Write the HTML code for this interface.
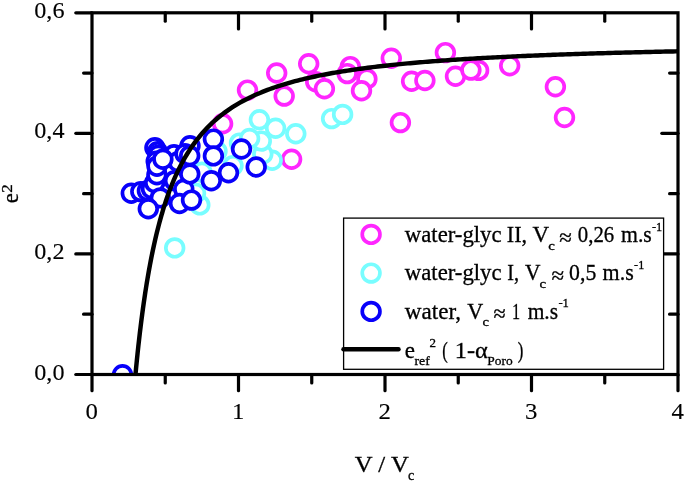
<!DOCTYPE html>
<html><head><meta charset="utf-8"><title>plot</title>
<style>
html,body{margin:0;padding:0;background:#fff;}
svg{display:block;}
text{font-family:"Liberation Serif",serif;font-size:22.8px;fill:#000;stroke:#000;stroke-width:0.3px;}
.sub{font-size:14px;}
.tl{font-size:24.1px;stroke-width:0.12px;}
</style></head><body>
<svg width="685" height="482" viewBox="0 0 685 482">
<rect width="685" height="482" fill="#fff"/>
<defs><clipPath id="cp"><rect x="92.0" y="12.8" width="586.0" height="361.7"/></clipPath></defs>
<g clip-path="url(#cp)">
<circle cx="391.3" cy="58.3" r="8.85" fill="#fff" stroke="#ff26ff" stroke-width="3.7"/>
<circle cx="445.4" cy="52.6" r="8.85" fill="#fff" stroke="#ff26ff" stroke-width="3.7"/>
<circle cx="411.6" cy="81.2" r="8.85" fill="#fff" stroke="#ff26ff" stroke-width="3.7"/>
<circle cx="424.9" cy="80.5" r="8.85" fill="#fff" stroke="#ff26ff" stroke-width="3.7"/>
<circle cx="455.5" cy="76.3" r="8.85" fill="#fff" stroke="#ff26ff" stroke-width="3.7"/>
<circle cx="478.6" cy="70.4" r="8.85" fill="#fff" stroke="#ff26ff" stroke-width="3.7"/>
<circle cx="470.9" cy="70.1" r="8.85" fill="#fff" stroke="#ff26ff" stroke-width="3.7"/>
<circle cx="509.7" cy="65.8" r="8.85" fill="#fff" stroke="#ff26ff" stroke-width="3.7"/>
<circle cx="400.4" cy="122.6" r="8.85" fill="#fff" stroke="#ff26ff" stroke-width="3.7"/>
<circle cx="555.4" cy="86.8" r="8.85" fill="#fff" stroke="#ff26ff" stroke-width="3.7"/>
<circle cx="564.5" cy="117.5" r="8.85" fill="#fff" stroke="#ff26ff" stroke-width="3.7"/>
<circle cx="247.5" cy="90.1" r="8.85" fill="#fff" stroke="#ff26ff" stroke-width="3.7"/>
<circle cx="276.7" cy="73.0" r="8.85" fill="#fff" stroke="#ff26ff" stroke-width="3.7"/>
<circle cx="284.2" cy="96.1" r="8.85" fill="#fff" stroke="#ff26ff" stroke-width="3.7"/>
<circle cx="308.7" cy="63.7" r="8.85" fill="#fff" stroke="#ff26ff" stroke-width="3.7"/>
<circle cx="315.7" cy="81.8" r="8.85" fill="#fff" stroke="#ff26ff" stroke-width="3.7"/>
<circle cx="324.4" cy="88.8" r="8.85" fill="#fff" stroke="#ff26ff" stroke-width="3.7"/>
<circle cx="350.3" cy="66.6" r="8.85" fill="#fff" stroke="#ff26ff" stroke-width="3.7"/>
<circle cx="347.2" cy="73.6" r="8.85" fill="#fff" stroke="#ff26ff" stroke-width="3.7"/>
<circle cx="366.9" cy="78.9" r="8.85" fill="#fff" stroke="#ff26ff" stroke-width="3.7"/>
<circle cx="361.5" cy="90.7" r="8.85" fill="#fff" stroke="#ff26ff" stroke-width="3.7"/>
<circle cx="222.6" cy="123.7" r="8.85" fill="#fff" stroke="#ff26ff" stroke-width="3.7"/>
<circle cx="291.6" cy="159.2" r="8.85" fill="#fff" stroke="#ff26ff" stroke-width="3.7"/>
<circle cx="174.7" cy="247.9" r="8.85" fill="#fff" stroke="#78fdff" stroke-width="3.7"/>
<circle cx="199.8" cy="204.9" r="8.85" fill="#fff" stroke="#78fdff" stroke-width="3.7"/>
<circle cx="195.5" cy="193.3" r="8.85" fill="#fff" stroke="#78fdff" stroke-width="3.7"/>
<circle cx="202.0" cy="172.3" r="8.85" fill="#fff" stroke="#78fdff" stroke-width="3.7"/>
<circle cx="217.0" cy="151.3" r="8.85" fill="#fff" stroke="#78fdff" stroke-width="3.7"/>
<circle cx="233.0" cy="165.6" r="8.85" fill="#fff" stroke="#78fdff" stroke-width="3.7"/>
<circle cx="272.2" cy="160.3" r="8.85" fill="#fff" stroke="#78fdff" stroke-width="3.7"/>
<circle cx="262.8" cy="154.0" r="8.85" fill="#fff" stroke="#78fdff" stroke-width="3.7"/>
<circle cx="261.3" cy="141.1" r="8.85" fill="#fff" stroke="#78fdff" stroke-width="3.7"/>
<circle cx="239.5" cy="143.1" r="8.85" fill="#fff" stroke="#78fdff" stroke-width="3.7"/>
<circle cx="249.6" cy="138.5" r="8.85" fill="#fff" stroke="#78fdff" stroke-width="3.7"/>
<circle cx="275.6" cy="128.3" r="8.85" fill="#fff" stroke="#78fdff" stroke-width="3.7"/>
<circle cx="259.4" cy="119.8" r="8.85" fill="#fff" stroke="#78fdff" stroke-width="3.7"/>
<circle cx="295.8" cy="133.8" r="8.85" fill="#fff" stroke="#78fdff" stroke-width="3.7"/>
<circle cx="331.6" cy="118.6" r="8.85" fill="#fff" stroke="#78fdff" stroke-width="3.7"/>
<circle cx="342.6" cy="114.4" r="8.85" fill="#fff" stroke="#78fdff" stroke-width="3.7"/>
<circle cx="131.3" cy="193.3" r="8.85" fill="#fff" stroke="#0800fa" stroke-width="3.7"/>
<circle cx="140.8" cy="191.6" r="8.85" fill="#fff" stroke="#0800fa" stroke-width="3.7"/>
<circle cx="147.4" cy="190.8" r="8.85" fill="#fff" stroke="#0800fa" stroke-width="3.7"/>
<circle cx="151.5" cy="188.7" r="8.85" fill="#fff" stroke="#0800fa" stroke-width="3.7"/>
<circle cx="154.7" cy="182.8" r="8.85" fill="#fff" stroke="#0800fa" stroke-width="3.7"/>
<circle cx="156.9" cy="174.8" r="8.85" fill="#fff" stroke="#0800fa" stroke-width="3.7"/>
<circle cx="154.9" cy="147.8" r="8.85" fill="#fff" stroke="#0800fa" stroke-width="3.7"/>
<circle cx="157.5" cy="151.8" r="8.85" fill="#fff" stroke="#0800fa" stroke-width="3.7"/>
<circle cx="158.2" cy="155.3" r="8.85" fill="#fff" stroke="#0800fa" stroke-width="3.7"/>
<circle cx="156.2" cy="161.3" r="8.85" fill="#fff" stroke="#0800fa" stroke-width="3.7"/>
<circle cx="157.0" cy="166.3" r="8.85" fill="#fff" stroke="#0800fa" stroke-width="3.7"/>
<circle cx="174.5" cy="180.8" r="8.85" fill="#fff" stroke="#0800fa" stroke-width="3.7"/>
<circle cx="174.0" cy="154.8" r="8.85" fill="#fff" stroke="#0800fa" stroke-width="3.7"/>
<circle cx="178.0" cy="161.8" r="8.85" fill="#fff" stroke="#0800fa" stroke-width="3.7"/>
<circle cx="162.9" cy="159.3" r="8.85" fill="#fff" stroke="#0800fa" stroke-width="3.7"/>
<circle cx="160.3" cy="197.9" r="8.85" fill="#fff" stroke="#0800fa" stroke-width="3.7"/>
<circle cx="148.3" cy="208.8" r="8.85" fill="#fff" stroke="#0800fa" stroke-width="3.7"/>
<circle cx="190.0" cy="145.8" r="8.85" fill="#fff" stroke="#0800fa" stroke-width="3.7"/>
<circle cx="185.0" cy="153.8" r="8.85" fill="#fff" stroke="#0800fa" stroke-width="3.7"/>
<circle cx="189.7" cy="155.8" r="8.85" fill="#fff" stroke="#0800fa" stroke-width="3.7"/>
<circle cx="183.8" cy="189.3" r="8.85" fill="#fff" stroke="#0800fa" stroke-width="3.7"/>
<circle cx="179.5" cy="203.5" r="8.85" fill="#fff" stroke="#0800fa" stroke-width="3.7"/>
<circle cx="189.8" cy="173.9" r="8.85" fill="#fff" stroke="#0800fa" stroke-width="3.7"/>
<circle cx="191.5" cy="200.1" r="8.85" fill="#fff" stroke="#0800fa" stroke-width="3.7"/>
<circle cx="213.4" cy="139.1" r="8.85" fill="#fff" stroke="#0800fa" stroke-width="3.7"/>
<circle cx="213.4" cy="155.9" r="8.85" fill="#fff" stroke="#0800fa" stroke-width="3.7"/>
<circle cx="241.5" cy="149.0" r="8.85" fill="#fff" stroke="#0800fa" stroke-width="3.7"/>
<circle cx="256.2" cy="167.0" r="8.85" fill="#fff" stroke="#0800fa" stroke-width="3.7"/>
<circle cx="228.5" cy="172.7" r="8.85" fill="#fff" stroke="#0800fa" stroke-width="3.7"/>
<circle cx="211.3" cy="180.8" r="8.85" fill="#fff" stroke="#0800fa" stroke-width="3.7"/>
<circle cx="122.5" cy="374.8" r="8.85" fill="#fff" stroke="#0800fa" stroke-width="3.7"/>
<path d="M134.49,385.37 L135.25,376.89 L136.02,368.77 L136.79,360.98 L137.56,353.51 L138.33,346.33 L139.10,339.43 L139.87,332.80 L140.64,326.41 L141.41,320.27 L142.18,314.35 L142.95,308.64 L143.72,303.14 L144.49,297.82 L145.26,292.69 L146.03,287.74 L146.80,282.95 L147.57,278.32 L148.34,273.84 L149.11,269.51 L149.88,265.31 L150.65,261.24 L151.42,257.30 L152.19,253.48 L152.96,249.78 L153.73,246.19 L154.50,242.70 L155.27,239.31 L156.04,236.02 L156.81,232.82 L157.58,229.72 L158.35,226.70 L159.12,223.76 L159.89,220.90 L160.66,218.12 L161.43,215.41 L162.20,212.77 L162.97,210.20 L163.74,207.70 L164.51,205.26 L165.27,202.88 L166.04,200.56 L166.81,198.30 L167.58,196.09 L168.35,193.94 L169.12,191.83 L169.89,189.78 L170.66,187.77 L171.43,185.82 L172.20,183.90 L172.97,182.03 L173.74,180.20 L174.51,178.42 L175.28,176.67 L176.05,174.96 L176.82,173.28 L177.59,171.65 L178.36,170.05 L179.13,168.48 L179.90,166.94 L182.40,162.16 L184.91,157.69 L187.41,153.50 L189.91,149.57 L192.42,145.86 L194.92,142.38 L197.42,139.08 L199.92,135.98 L202.43,133.03 L204.93,130.25 L207.43,127.61 L209.94,125.10 L212.44,122.72 L214.94,120.45 L217.45,118.29 L219.95,116.23 L222.45,114.26 L224.95,112.39 L227.46,110.59 L229.96,108.87 L232.46,107.23 L234.97,105.66 L237.47,104.15 L239.97,102.70 L242.48,101.30 L244.98,99.97 L247.48,98.68 L249.98,97.44 L252.49,96.25 L254.99,95.10 L257.49,94.00 L260.00,92.93 L262.50,91.90 L265.00,90.91 L267.51,89.95 L270.01,89.02 L272.51,88.12 L275.01,87.25 L277.52,86.41 L280.02,85.60 L282.52,84.81 L285.03,84.05 L287.53,83.31 L290.03,82.59 L292.54,81.89 L295.04,81.22 L297.54,80.56 L300.04,79.92 L302.55,79.30 L305.05,78.70 L307.55,78.12 L310.06,77.55 L312.56,76.99 L315.06,76.46 L317.57,75.93 L320.07,75.42 L322.57,74.92 L325.07,74.44 L327.58,73.97 L330.08,73.50 L332.58,73.06 L335.09,72.62 L337.59,72.19 L340.09,71.77 L342.60,71.37 L345.10,70.97 L347.60,70.58 L350.11,70.20 L352.61,69.83 L355.11,69.47 L357.61,69.11 L360.12,68.77 L362.62,68.43 L365.12,68.10 L367.63,67.77 L370.13,67.46 L372.63,67.15 L375.14,66.84 L377.64,66.55 L380.14,66.25 L382.64,65.97 L385.15,65.69 L387.65,65.42 L390.15,65.15 L392.66,64.89 L395.16,64.63 L397.66,64.37 L400.17,64.13 L402.67,63.88 L405.17,63.65 L407.67,63.41 L410.18,63.18 L412.68,62.96 L415.18,62.74 L417.69,62.52 L420.19,62.31 L422.69,62.10 L425.20,61.89 L427.70,61.69 L430.20,61.49 L432.70,61.30 L435.21,61.11 L437.71,60.92 L440.21,60.73 L442.72,60.55 L445.22,60.37 L447.72,60.20 L450.23,60.03 L452.73,59.86 L455.23,59.69 L457.73,59.53 L460.24,59.36 L462.74,59.21 L465.24,59.05 L467.75,58.90 L470.25,58.74 L472.75,58.60 L475.26,58.45 L477.76,58.30 L480.26,58.16 L482.76,58.02 L485.27,57.88 L487.77,57.75 L490.27,57.61 L492.78,57.48 L495.28,57.35 L497.78,57.23 L500.29,57.10 L502.79,56.97 L505.29,56.85 L507.79,56.73 L510.30,56.61 L512.80,56.50 L515.30,56.38 L517.81,56.27 L520.31,56.15 L522.81,56.04 L525.32,55.93 L527.82,55.83 L530.32,55.72 L532.83,55.62 L535.33,55.51 L537.83,55.41 L540.33,55.31 L542.84,55.21 L545.34,55.11 L547.84,55.02 L550.35,54.92 L552.85,54.83 L555.35,54.73 L557.86,54.64 L560.36,54.55 L562.86,54.46 L565.36,54.37 L567.87,54.28 L570.37,54.20 L572.87,54.11 L575.38,54.03 L577.88,53.95 L580.38,53.86 L582.89,53.78 L585.39,53.70 L587.89,53.62 L590.39,53.55 L592.90,53.47 L595.40,53.39 L597.90,53.32 L600.41,53.24 L602.91,53.17 L605.41,53.10 L607.92,53.03 L610.42,52.95 L612.92,52.88 L615.42,52.81 L617.93,52.75 L620.43,52.68 L622.93,52.61 L625.44,52.54 L627.94,52.48 L630.44,52.41 L632.95,52.35 L635.45,52.29 L637.95,52.22 L640.45,52.16 L642.96,52.10 L645.46,52.04 L647.96,51.98 L650.47,51.92 L652.97,51.86 L655.47,51.80 L657.98,51.75 L660.48,51.69 L662.98,51.63 L665.48,51.58 L667.99,51.52 L670.49,51.47 L672.99,51.41 L675.50,51.36 L678.00,51.31" fill="none" stroke="#000" stroke-width="4.45" stroke-linejoin="round"/>
</g>
<g stroke="#000" stroke-width="3.2" stroke-linecap="round">
<line x1="92.00" y1="374.5" x2="92.00" y2="390.7"/>
<line x1="165.25" y1="374.5" x2="165.25" y2="382.9"/>
<line x1="165.25" y1="12.8" x2="165.25" y2="21.200000000000003"/>
<line x1="238.50" y1="374.5" x2="238.50" y2="390.7"/>
<line x1="238.50" y1="12.8" x2="238.50" y2="29.0"/>
<line x1="311.75" y1="374.5" x2="311.75" y2="382.9"/>
<line x1="311.75" y1="12.8" x2="311.75" y2="21.200000000000003"/>
<line x1="385.00" y1="374.5" x2="385.00" y2="390.7"/>
<line x1="385.00" y1="12.8" x2="385.00" y2="29.0"/>
<line x1="458.25" y1="374.5" x2="458.25" y2="382.9"/>
<line x1="458.25" y1="12.8" x2="458.25" y2="21.200000000000003"/>
<line x1="531.50" y1="374.5" x2="531.50" y2="390.7"/>
<line x1="531.50" y1="12.8" x2="531.50" y2="29.0"/>
<line x1="604.75" y1="374.5" x2="604.75" y2="382.9"/>
<line x1="604.75" y1="12.8" x2="604.75" y2="21.200000000000003"/>
<line x1="678.00" y1="374.5" x2="678.00" y2="390.7"/>
<line x1="92.0" y1="374.50" x2="75.8" y2="374.50"/>
<line x1="92.0" y1="314.22" x2="83.6" y2="314.22"/>
<line x1="678.0" y1="314.22" x2="669.6" y2="314.22"/>
<line x1="92.0" y1="253.93" x2="75.8" y2="253.93"/>
<line x1="678.0" y1="253.93" x2="661.8" y2="253.93"/>
<line x1="92.0" y1="193.65" x2="83.6" y2="193.65"/>
<line x1="678.0" y1="193.65" x2="669.6" y2="193.65"/>
<line x1="92.0" y1="133.37" x2="75.8" y2="133.37"/>
<line x1="678.0" y1="133.37" x2="661.8" y2="133.37"/>
<line x1="92.0" y1="73.08" x2="83.6" y2="73.08"/>
<line x1="678.0" y1="73.08" x2="669.6" y2="73.08"/>
<line x1="92.0" y1="12.80" x2="75.8" y2="12.80"/>
</g>
<rect x="343.6" y="218.1" width="320" height="151.2" fill="#fff" stroke="#000" stroke-width="1.3"/>
<rect x="92.0" y="12.8" width="586.0" height="361.7" fill="none" stroke="#000" stroke-width="3.2"/>
<g>
<circle cx="371.1" cy="234.4" r="8.85" fill="#fff" stroke="#ff26ff" stroke-width="3.7"/>
<circle cx="371.1" cy="273.1" r="8.85" fill="#fff" stroke="#78fdff" stroke-width="3.7"/>
<circle cx="371.1" cy="311.4" r="8.85" fill="#fff" stroke="#0800fa" stroke-width="3.7"/>
<line x1="343.5" y1="349.2" x2="398.5" y2="349.2" stroke="#000" stroke-width="4.45" stroke-linecap="round"/>
<text x="404.8" y="242.0" textLength="96.8" lengthAdjust="spacingAndGlyphs">water-glyc</text>
<text x="506.8" y="242.0" textLength="20.3" lengthAdjust="spacingAndGlyphs">II,</text>
<text x="532.6" y="242.0" textLength="16.6" lengthAdjust="spacingAndGlyphs">V</text>
<text x="548.2" y="249.6" textLength="6.6" lengthAdjust="spacingAndGlyphs" style="font-size:13.3px">c</text>
<text x="559.3" y="244.8" textLength="12.6" lengthAdjust="spacingAndGlyphs">≈</text>
<text x="577.8" y="242.0" textLength="36.4" lengthAdjust="spacingAndGlyphs">0,26</text>
<text x="621.0" y="242.0" textLength="30.8" lengthAdjust="spacingAndGlyphs">m.s</text>
<text x="652.0" y="230.8" textLength="10.3" lengthAdjust="spacingAndGlyphs" style="font-size:13.3px">-1</text>
<text x="404.8" y="280.2" textLength="96.8" lengthAdjust="spacingAndGlyphs">water-glyc</text>
<text x="507.2" y="280.2" textLength="11.8" lengthAdjust="spacingAndGlyphs">I,</text>
<text x="524.9" y="280.2" textLength="15.5" lengthAdjust="spacingAndGlyphs">V</text>
<text x="539.6" y="287.8" textLength="6.6" lengthAdjust="spacingAndGlyphs" style="font-size:13.3px">c</text>
<text x="551.4" y="283.0" textLength="12.6" lengthAdjust="spacingAndGlyphs">≈</text>
<text x="569.1" y="280.2" textLength="27.2" lengthAdjust="spacingAndGlyphs">0,5</text>
<text x="602.6" y="280.2" textLength="31.1" lengthAdjust="spacingAndGlyphs">m.s</text>
<text x="634.1" y="269.0" textLength="10.1" lengthAdjust="spacingAndGlyphs" style="font-size:13.3px">-1</text>
<text x="404.8" y="318.6" textLength="56.2" lengthAdjust="spacingAndGlyphs">water,</text>
<text x="467.2" y="318.6" textLength="16.0" lengthAdjust="spacingAndGlyphs">V</text>
<text x="482.4" y="326.2" textLength="6.5" lengthAdjust="spacingAndGlyphs" style="font-size:13.3px">c</text>
<text x="493.5" y="321.4" textLength="12.2" lengthAdjust="spacingAndGlyphs">≈</text>
<text x="511.9" y="318.6" textLength="8.1" lengthAdjust="spacingAndGlyphs">1</text>
<text x="527.7" y="318.6" textLength="30.4" lengthAdjust="spacingAndGlyphs">m.s</text>
<text x="558.4" y="307.4" textLength="10.5" lengthAdjust="spacingAndGlyphs" style="font-size:13.3px">-1</text>
<text x="404.8" y="357.6" textLength="10.2" lengthAdjust="spacingAndGlyphs">e</text>
<text x="414.4" y="364.8" textLength="15.4" lengthAdjust="spacingAndGlyphs" style="font-size:13.3px">ref</text>
<text x="429.4" y="347.4" textLength="6.5" lengthAdjust="spacingAndGlyphs" style="font-size:13.3px">2</text>
<text x="442.2" y="357.6" textLength="5.5" lengthAdjust="spacingAndGlyphs">(</text>
<text x="454.8" y="357.6" textLength="32.9" lengthAdjust="spacingAndGlyphs">1-α</text>
<text x="487.3" y="364.8" textLength="25.4" lengthAdjust="spacingAndGlyphs" style="font-size:13.3px">Poro</text>
<text x="517.8" y="357.6" textLength="5.6" lengthAdjust="spacingAndGlyphs">)</text>
</g>
<g><text class="tl" x="85.6" y="418.7" textLength="12.4" lengthAdjust="spacingAndGlyphs">0</text><text class="tl" x="232.1" y="418.7" textLength="12.4" lengthAdjust="spacingAndGlyphs">1</text><text class="tl" x="378.6" y="418.7" textLength="12.4" lengthAdjust="spacingAndGlyphs">2</text><text class="tl" x="525.1" y="418.7" textLength="12.4" lengthAdjust="spacingAndGlyphs">3</text><text class="tl" x="671.6" y="418.7" textLength="12.4" lengthAdjust="spacingAndGlyphs">4</text></g>
<g><text class="tl" x="34.3" y="379.5" textLength="30.2" lengthAdjust="spacingAndGlyphs">0,0</text><text class="tl" x="34.3" y="258.9" textLength="30.2" lengthAdjust="spacingAndGlyphs">0,2</text><text class="tl" x="34.3" y="138.4" textLength="30.2" lengthAdjust="spacingAndGlyphs">0,4</text><text class="tl" x="34.3" y="17.8" textLength="30.2" lengthAdjust="spacingAndGlyphs">0,6</text></g>
<text x="354.8" y="471.5" style="font-size:22.9px" textLength="54" lengthAdjust="spacingAndGlyphs">V / V</text><text x="407.9" y="480.1" class="sub" style="font-size:14px">c</text>
<text transform="translate(18.3,203.2) rotate(-90)">e<tspan style="font-size:15.6px" dy="-5.9" dx="0.3" textLength="8.4" lengthAdjust="spacingAndGlyphs">2</tspan></text>
</svg>
</body></html>
